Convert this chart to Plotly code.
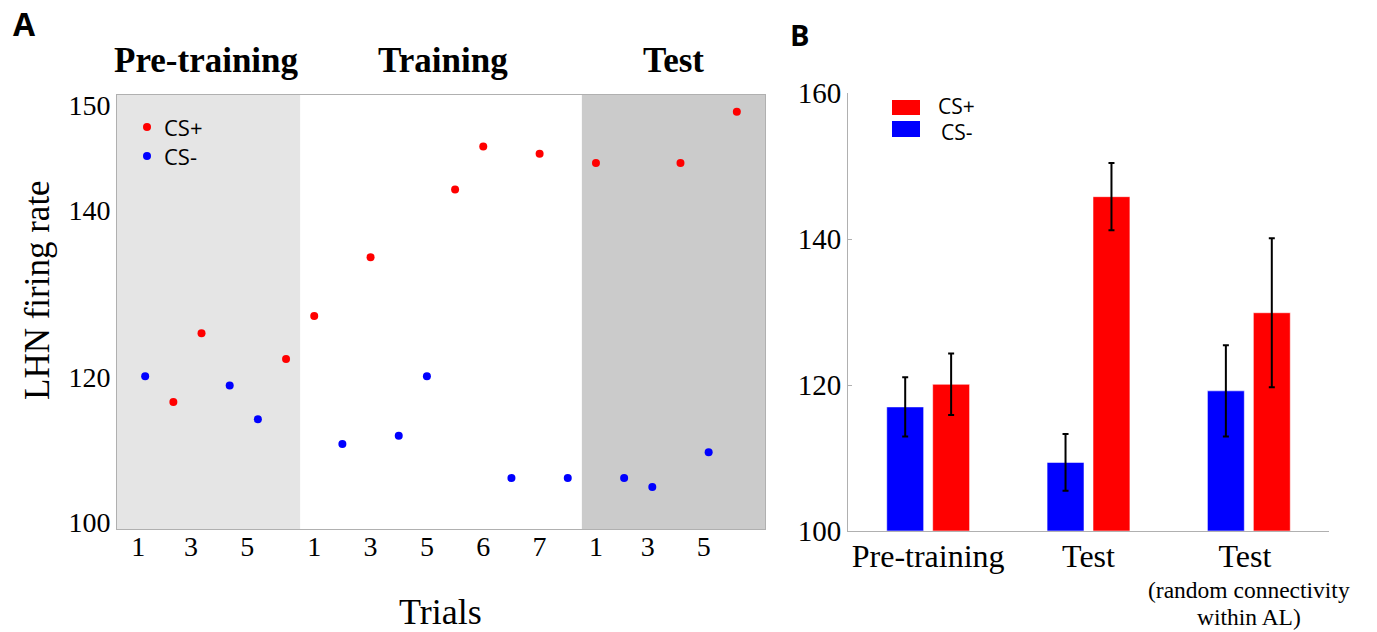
import plotly.graph_objects as go

W, H = 1377, 632

# ---------------- Panel A data ----------------
trial_pos = list(range(1, 23))            # 6 pre-training, 10 training, 6 test trials
trial_color = ["b", "r", "r", "b", "b", "r",
               "r", "b", "r", "b", "b", "r", "r", "b", "r", "b",
               "r", "b", "b", "r", "b", "r"]
firing_rate = [118.7, 115.6, 123.9, 117.6, 113.5, 120.8,
               126.0, 110.5, 133.1, 111.5, 118.7, 141.3, 146.5, 106.4, 145.6, 106.4,
               144.5, 106.4, 105.3, 144.5, 109.5, 150.7]
a_tick_pos = [0.75, 2.63, 4.62, 7, 9, 11, 13, 15, 17, 18.84, 20.83]
a_tick_text = ["1", "3", "5", "1", "3", "5", "6", "7", "1", "3", "5"]
train_tick_pos = [7, 9, 11, 13, 15]
a_ytick_pos = [101.07, 118.61, 138.81, 151.51]
a_ytick_text = ["100", "120", "140", "150"]
phases = ["Pre-training", "Training", "Test"]
phase_bounds = [0, 6.5, 16.5, 23]
legend_names = ["CS+", "CS-"]

# ---------------- Panel B data ----------------
b_categories = ["Pre-training", "Test", "Test "]
b_subtitle = ["(random connectivity", "within AL)"]
cs_minus = [117.0, 109.4, 119.2]
cs_minus_err = [4.05, 3.9, 6.25]
cs_plus = [120.1, 145.8, 129.9]
cs_plus_err = [4.2, 4.6, 10.2]
b_yticks = [100, 120, 140, 160]

RED = "#ff0000"
BLUE = "#0000ff"
AXC = "#b0b0b0"
SERIF = "Liberation Serif"
SANS = "Open Sans"


def px(x):
    return x / W


def py(y):
    return 1 - y / H


fig = go.Figure()

# Panel A scatter
for key, name, col in [("r", "CS+", RED), ("b", "CS-", BLUE)]:
    xs = [p for p, c in zip(trial_pos, trial_color) if c == key]
    ys = [v for v, c in zip(firing_rate, trial_color) if c == key]
    fig.add_trace(go.Scatter(x=xs, y=ys, mode="markers", name=name,
                             marker=dict(color=col, size=8),
                             xaxis="x", yaxis="y", showlegend=False))

# Panel B bars
fig.add_trace(go.Bar(x=b_categories, y=[v - 100 for v in cs_minus], base=100, name="CS-",
                     marker=dict(color=BLUE, line=dict(color="rgba(255,255,255,0.55)", width=1)),
                     error_y=dict(type="data", array=cs_minus_err, color="black", thickness=2, width=3),
                     xaxis="x2", yaxis="y2", showlegend=False))
fig.add_trace(go.Bar(x=b_categories, y=[v - 100 for v in cs_plus], base=100, name="CS+",
                     marker=dict(color=RED, line=dict(color="rgba(255,255,255,0.55)", width=1)),
                     error_y=dict(type="data", array=cs_plus_err, color="black", thickness=2, width=3),
                     xaxis="x2", yaxis="y2", showlegend=False))

shapes = [
    dict(type="rect", xref="x", yref="y domain", x0=phase_bounds[0], x1=phase_bounds[1], y0=0, y1=1,
         fillcolor="#e5e5e5", line=dict(width=0), layer="below"),
    dict(type="rect", xref="x", yref="y domain", x0=phase_bounds[2], x1=phase_bounds[3], y0=0, y1=1,
         fillcolor="#cbcbcb", line=dict(width=0), layer="below"),
    # legend swatches for panel B
    dict(type="rect", xref="paper", yref="paper", x0=px(892), x1=px(920), y0=py(115), y1=py(100),
         fillcolor=RED, line=dict(width=0)),
    dict(type="rect", xref="paper", yref="paper", x0=px(892), x1=px(920), y0=py(137), y1=py(121),
         fillcolor=BLUE, line=dict(width=0)),
    # legend dots for panel A
    dict(type="circle", xref="paper", yref="paper", x0=px(143), x1=px(151), y0=py(131), y1=py(123),
         fillcolor=RED, line=dict(width=0)),
    dict(type="circle", xref="paper", yref="paper", x0=px(143), x1=px(151), y0=py(160), y1=py(152),
         fillcolor=BLUE, line=dict(width=0)),
]

annotations = [
    dict(text="<b>A</b>", x=px(24.5), y=py(24), xref="paper", yref="paper", showarrow=False,
         font=dict(family=SANS, size=32, color="black"), xanchor="center", yanchor="middle"),
    dict(text="<b>B</b>", x=px(799.5), y=py(35), xref="paper", yref="paper", showarrow=False,
         font=dict(family=SANS, size=29, color="black"), xanchor="center", yanchor="middle"),
    # panel A legend text
    dict(text=legend_names[0], x=px(162), y=py(127), xref="paper", yref="paper", showarrow=False,
         font=dict(family=SANS, size=22, color="black"), xanchor="left", yanchor="middle"),
    dict(text=legend_names[1], x=px(162), y=py(156), xref="paper", yref="paper", showarrow=False,
         font=dict(family=SANS, size=22, color="black"), xanchor="left", yanchor="middle"),
    # panel B legend text
    dict(text=legend_names[0], x=px(936), y=py(106), xref="paper", yref="paper", showarrow=False,
         font=dict(family=SANS, size=21, color="black"), xanchor="left", yanchor="middle"),
    dict(text=legend_names[1], x=px(939), y=py(132), xref="paper", yref="paper", showarrow=False,
         font=dict(family=SANS, size=21, color="black"), xanchor="left", yanchor="middle"),
    dict(text="Trials", x=px(440), y=py(612), xref="paper", yref="paper", showarrow=False,
         font=dict(family=SERIF, size=36, color="black"), xanchor="center", yanchor="middle"),
    dict(text="LHN firing rate", x=px(37), y=py(290), xref="paper", yref="paper", showarrow=False,
         textangle=-90, font=dict(family=SERIF, size=35, color="black"),
         xanchor="center", yanchor="middle"),
    dict(text=b_subtitle[0], x=2, y=py(590), xref="x2", yref="paper",
         showarrow=False, font=dict(family=SERIF, size=23.5, color="black"),
         xanchor="center", yanchor="middle"),
    dict(text=b_subtitle[1], x=2, y=py(617), xref="x2", yref="paper",
         showarrow=False, font=dict(family=SERIF, size=23.5, color="black"),
         xanchor="center", yanchor="middle"),
]
title_x = [206, 443, 673]
for name, tx in zip(phases, title_x):
    annotations.append(dict(text=f"<b>{name}</b>", x=px(tx), y=py(60), xref="paper", yref="paper",
                            showarrow=False, font=dict(family=SERIF, size=35, color="black"),
                            xanchor="center", yanchor="middle"))

fig.update_layout(
    width=W, height=H, autosize=False,
    margin=dict(l=0, r=0, t=0, b=0, pad=0, autoexpand=False),
    paper_bgcolor="white", plot_bgcolor="white",
    showlegend=False,
    barmode="group", bargap=0.427, bargroupgap=0.196,
    shapes=shapes, annotations=annotations,
    xaxis=dict(domain=[px(117), px(765)], range=[0, 23], tickmode="array",
               tickvals=a_tick_pos, ticktext=a_tick_text, ticks="", automargin=False,
               ticklabelstandoff=-8,
               showline=True, linecolor=AXC, linewidth=1, mirror=True,
               showgrid=False, zeroline=False,
               tickfont=dict(family=SERIF, size=28, color="black"), anchor="y"),
    xaxis3=dict(overlaying="x", range=[0, 23], tickmode="array", tickvals=train_tick_pos,
                ticks="inside", ticklen=5, tickcolor=AXC, showticklabels=False, automargin=False,
                showline=True, linecolor=AXC, mirror="ticks", showgrid=False, zeroline=False,
                anchor="y"),
    yaxis=dict(domain=[py(529), py(95)], range=[100.23, 152.72], tickmode="array",
               tickvals=a_ytick_pos, ticktext=a_ytick_text, ticks="", automargin=False,
               showline=True, linecolor=AXC, linewidth=1, mirror=True,
               showgrid=False, zeroline=False,
               tickfont=dict(family=SERIF, size=28, color="black"), anchor="x"),
    xaxis2=dict(domain=[px(848), px(1329)], range=[-0.5, 2.5], type="category",
                ticks="", showline=True, linecolor=AXC, linewidth=1, automargin=False,
                ticklabelstandoff=-3,
                showgrid=False, zeroline=False,
                tickfont=dict(family=SERIF, size=32, color="black"), anchor="y2"),
    yaxis2=dict(domain=[py(531), py(93)], range=[100, 160], tickmode="array", tickvals=b_yticks,
                ticks="inside", ticklen=4, tickcolor=AXC, showline=True, linecolor=AXC,
                linewidth=1, showgrid=False, zeroline=False, automargin=False,
                tickfont=dict(family=SERIF, size=29, color="black"), anchor="x2"),
)

fig.write_html("out.html")
